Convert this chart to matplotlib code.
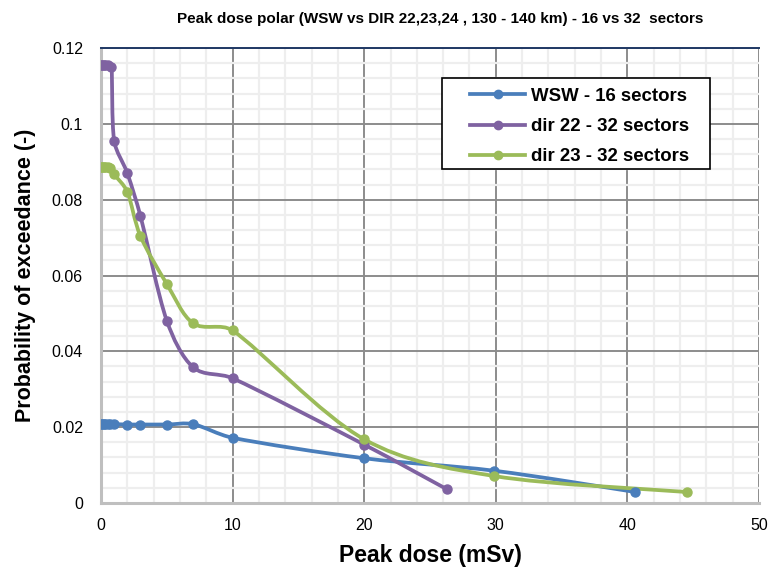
import numpy as np
import matplotlib.pyplot as plt
from matplotlib.path import Path
from matplotlib.patches import PathPatch, Rectangle
from matplotlib.ticker import MultipleLocator

plt.rcParams['font.family'] = ['Liberation Sans', 'DejaVu Sans']

# data
wsw_x = [0, 0.1, 0.2, 0.3, 0.5, 0.7, 1.0, 2.0, 3.0, 5.0, 7.0, 10.0, 20.0, 29.9, 40.6]
wsw_y = [0.0208, 0.0208, 0.0208, 0.0208, 0.0208, 0.0208, 0.0208, 0.0207, 0.0207, 0.0207,
         0.0208, 0.0172, 0.0118, 0.0085, 0.0029]

d22_x = [0, 0.1, 0.2, 0.3, 0.5, 0.8, 1.0, 2.0, 3.0, 5.0, 7.0, 10.0, 20.0, 26.3]
d22_y = [0.1156, 0.1156, 0.1156, 0.1155, 0.1154, 0.1151, 0.0956, 0.0870, 0.0757,
         0.0481, 0.0358, 0.0329, 0.0154, 0.0036]

d23_x = [0, 0.1, 0.2, 0.3, 0.5, 0.7, 1.0, 2.0, 3.0, 5.0, 7.0, 10.0, 20.0, 29.9, 44.5]
d23_y = [0.0885, 0.0885, 0.0885, 0.0885, 0.0885, 0.0884, 0.0867, 0.0821, 0.0704,
         0.0578, 0.0474, 0.0455, 0.0168, 0.0071, 0.0029]

series = [
    ("WSW - 16 sectors", wsw_x, wsw_y, "#4a7ebb"),
    ("dir 22 - 32 sectors", d22_x, d22_y, "#7f62a1"),
    ("dir 23 - 32 sectors", d23_x, d23_y, "#9bbb59"),
]


def smooth_path(x, y, sx=13.2, sy=3790.0):
    # smoothed line like Excel: cubic bezier through the points,
    # control arms capped so short segments don't overshoot
    p = np.column_stack([x, y]).astype(float)
    n = len(p)
    scale = np.array([sx, sy])

    def dist(a, b):
        return np.hypot(*((b - a) * scale)) + 1e-9

    verts = [p[0]]
    codes = [Path.MOVETO]
    for i in range(n - 1):
        p0 = p[i - 1] if i > 0 else p[i]
        p1 = p[i]
        p2 = p[i + 1]
        p3 = p[i + 2] if i + 2 < n else p[i + 1]
        d12 = dist(p1, p2)
        t1 = (p2 - p0) / 6.0
        t2 = (p3 - p1) / 6.0
        l1, l2 = dist(0 * t1, t1), dist(0 * t2, t2)
        cap = 0.35 * d12
        if l1 > cap:
            t1 = t1 * cap / l1
        if l2 > cap:
            t2 = t2 * cap / l2
        verts += [p1 + t1, p2 - t2, p2]
        codes += [Path.CURVE4] * 3
    return Path(verts, codes)


fig = plt.figure(figsize=(7.69, 5.67), dpi=100)
ax = fig.add_axes([0.1313, 0.1129, 0.8557, 0.8024])

for label, x, y, c in series:
    patch = PathPatch(smooth_path(x, y), facecolor='none', edgecolor=c, lw=2.7,
                      capstyle='round', joinstyle='round', zorder=3)
    ax.add_patch(patch)
    ax.plot(x, y, 'o', color=c, ms=6.5, zorder=4)
    ax.plot([], [], '-o', color=c, lw=2.7, ms=6, label=label)

ax.set_xlim(0, 50)
ax.set_ylim(0, 0.12)
ax.xaxis.set_major_locator(MultipleLocator(10))
ax.xaxis.set_minor_locator(MultipleLocator(2))
ax.yaxis.set_major_locator(MultipleLocator(0.02))
ax.yaxis.set_minor_locator(MultipleLocator(0.004))
ax.set_yticks([0, 0.02, 0.04, 0.06, 0.08, 0.1, 0.12])
ax.set_yticklabels(["0", "0.02", "0.04", "0.06", "0.08", "0.1", "0.12"])

ax.grid(which='minor', color='#eeeeee', lw=1.6, zorder=0)
ax.grid(which='major', color='#8c8c8c', lw=1.4, zorder=1)
ax.set_axisbelow(True)

ax.tick_params(which='both', length=0, labelsize=11.5)
ax.tick_params(axis='y', pad=13)
ax.tick_params(axis='x', pad=11)
for s in ['left', 'bottom']:
    ax.spines[s].set_color('#bfbfbf')
    ax.spines[s].set_linewidth(2.2)
ax.spines['right'].set_visible(False)
ax.spines['top'].set_color('#1f3864')
ax.spines['top'].set_linewidth(1.4)

ax.set_xlabel("Peak dose (mSv)", fontsize=16.5, fontweight='bold', labelpad=8)
ax.set_ylabel("Probability of exceedance (-)", fontsize=15.5, fontweight='bold', labelpad=11)
fig.text(0.572, 0.967, "Peak dose polar (WSW vs DIR 22,23,24 , 130 - 140 km) - 16 vs 32  sectors",
         ha='center', va='center', fontsize=11, fontweight='bold')

# legend without its own frame, box drawn separately (Excel-style padding)
box = Rectangle((0.5748, 0.7019), 0.3485, 0.1605, transform=fig.transFigure,
                facecolor='white', edgecolor='black', lw=1.2, zorder=5, clip_on=False)
ax.add_patch(box)
leg = ax.legend(loc='upper left', bbox_to_anchor=(0.561, 0.913), frameon=False,
                prop={'size': 13.4, 'weight': 'bold'},
                handlelength=2.95, borderpad=0, labelspacing=0.72, handletextpad=0.3,
                borderaxespad=0)
leg.set_zorder(6)

fig.savefig("out.png", dpi=100)
